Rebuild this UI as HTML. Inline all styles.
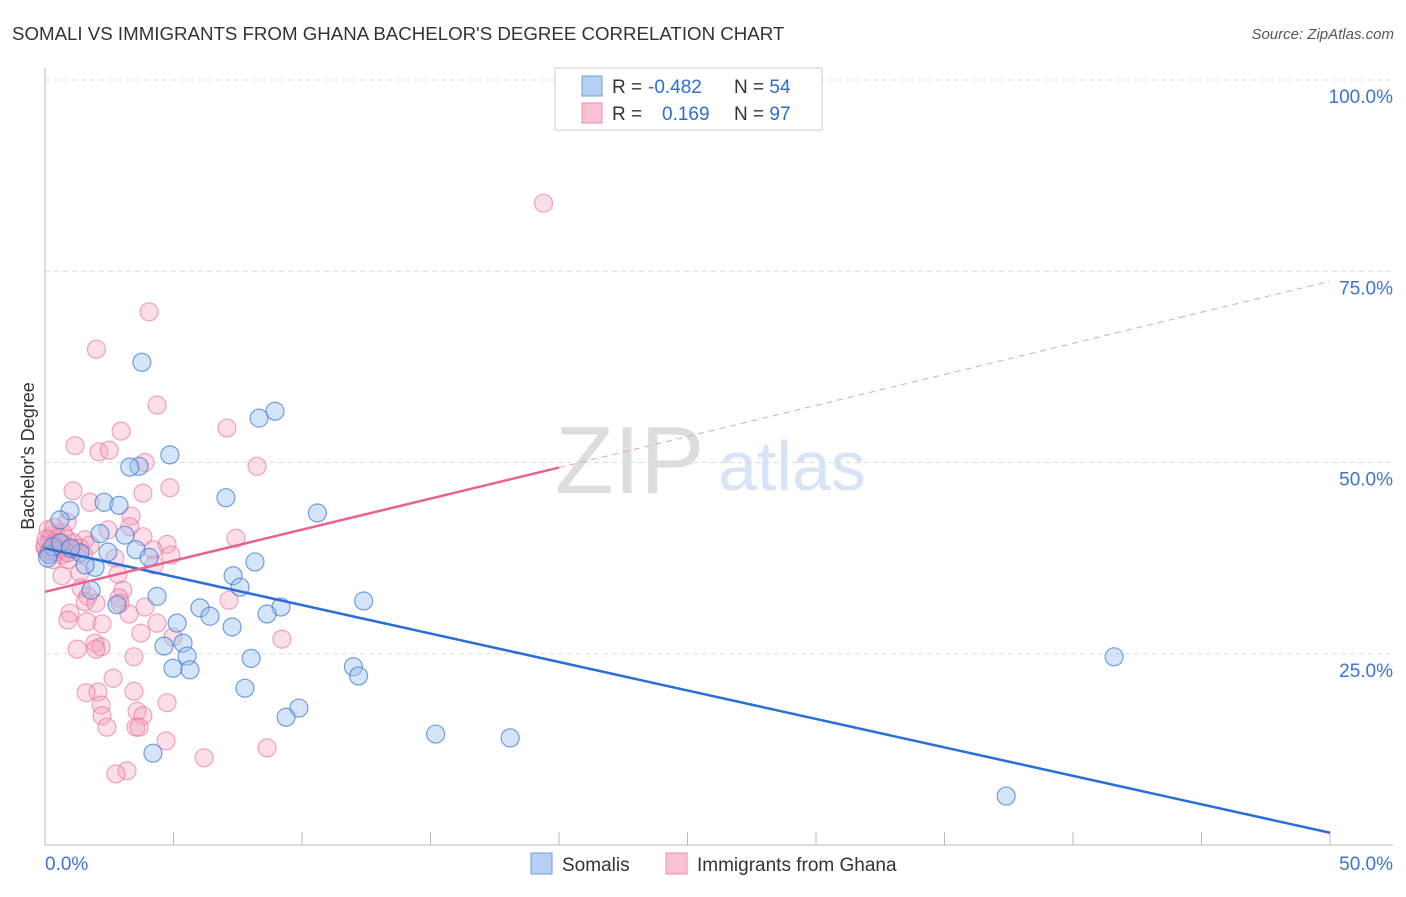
<!DOCTYPE html>
<html><head><meta charset="utf-8"><style>
body{margin:0;background:#fff;font-family:"Liberation Sans",sans-serif;}
svg text{font-family:"Liberation Sans",sans-serif;}
</style></head><body>
<svg id="c" width="1406" height="892" xmlns="http://www.w3.org/2000/svg">
<text x="12" y="40" font-size="18.7" fill="#333">SOMALI VS IMMIGRANTS FROM GHANA BACHELOR'S DEGREE CORRELATION CHART</text>
<text x="1394" y="39" font-size="15" fill="#555" text-anchor="end" font-style="italic">Source: ZipAtlas.com</text>
<text x="34" y="456" font-size="18" fill="#333" text-anchor="middle" transform="rotate(-90 34 456)">Bachelor's Degree</text>
<text x="555" y="493" font-size="96" fill="#ddd" font-family="Liberation Serif">ZIP</text>
<text x="718" y="490" font-size="70" fill="#d6e4f5">atlas</text>
<g id="grid"></g><g id="pts"></g><g id="lines"></g>
<g>
<rect x="555" y="68" width="267" height="62" fill="#fff" stroke="#ccc"/>
<rect x="582" y="76" width="20" height="20" fill="#b5d0f3" stroke="#6a9ee0"/>
<rect x="582" y="103" width="20" height="20" fill="#f8c2d2" stroke="#eb8eab"/>
<text x="612" y="93" font-size="19" fill="#333">R = </text><text x="648" y="93" font-size="19" fill="#2d6cd0">-0.482</text>
<text x="734" y="93" font-size="19" fill="#333">N = <tspan fill="#2d6cd0">54</tspan></text>
<text x="612" y="120" font-size="19" fill="#333">R = </text><text x="662" y="120" font-size="19" fill="#2d6cd0">0.169</text>
<text x="734" y="120" font-size="19" fill="#333">N = <tspan fill="#2d6cd0">97</tspan></text>
</g>
<g>
<rect x="531" y="853" width="21" height="21" fill="#b5d0f3" stroke="#6a9ee0"/>
<text x="562" y="871" font-size="19" fill="#333">Somalis</text>
<rect x="666" y="853" width="21" height="21" fill="#f8c2d2" stroke="#eb8eab"/>
<text x="697" y="871" font-size="19" fill="#333">Immigrants from Ghana</text>
</g>
</svg>
<script>
const yTicks=[100,75,50,25];
const yTickLabels=["100.0%","75.0%","50.0%","25.0%"];
const xTickLabels=["0.0%","50.0%"];
const somaliX=[3.77,8.95,8.33,4.86,3.66,3.3,7.04,2.3,2.88,10.6,0.97,0.58,2.14,3.11,3.54,2.45,1.36,4.05,8.17,1.95,1.56,7.32,7.59,1.79,4.36,12.4,2.8,9.18,6.03,8.64,6.42,5.14,7.28,5.37,4.63,5.53,8.02,41.6,4.98,5.64,12.0,12.2,7.78,9.88,9.38,15.2,18.1,4.2,37.4,0.15,0.3,0.1,0.6,1.0];
const somaliY=[63.1,56.7,55.8,51.0,49.5,49.4,45.4,44.8,44.4,43.4,43.7,42.5,40.7,40.5,38.6,38.3,38.2,37.6,37.0,36.3,36.6,35.2,33.7,33.3,32.5,31.9,31.4,31.1,31.0,30.2,29.9,29.0,28.5,26.4,26.0,24.7,24.4,24.6,23.1,22.9,23.3,22.1,20.5,17.9,16.7,14.5,14.0,12.0,6.4,38.0,39.0,37.5,39.5,38.8];
const ghanaX=[19.4,4.05,2.0,4.36,7.08,2.96,1.17,2.1,2.5,3.89,8.25,4.86,1.09,3.81,1.75,3.35,0.86,3.3,2.45,7.43,3.81,4.75,1.56,4.2,4.9,2.72,4.24,1.36,0.66,2.84,1.4,3.03,1.67,2.88,1.56,1.98,2.92,3.89,7.16,0.97,0.89,1.63,3.27,4.36,2.22,3.73,4.98,9.22,1.95,2.18,1.98,1.25,3.46,2.06,1.6,3.46,4.75,2.65,2.18,2.22,3.58,3.81,2.41,3.54,3.66,4.71,8.64,6.19,3.19,2.76,0.19,0.39,0.58,0.08,0.27,0.78,0.51,0.0,0.97,0.66,0.12,1.17,0.82,0.43,0.0,1.36,0.31,0.89,1.75,0.5,0.2,1.1,0.7,0.35,1.5,0.05,0.9];
const ghanaY=[83.9,69.7,64.8,57.5,54.5,54.1,52.2,51.4,51.6,50.0,49.5,46.7,46.3,46.0,44.8,43.0,42.2,41.6,41.2,40.1,40.3,39.3,39.9,38.6,37.9,37.5,36.6,35.6,35.2,35.4,33.6,33.3,32.5,32.3,31.8,31.6,31.6,31.1,32.0,30.3,29.4,29.2,30.2,29.0,28.9,27.7,27.2,26.9,26.4,25.9,25.6,25.6,24.6,20.0,19.9,20.1,18.6,21.8,18.3,16.9,17.5,16.9,15.4,15.4,15.4,13.6,12.7,11.4,9.7,9.3,39.9,39.2,38.8,38.3,40.5,39.2,40.1,38.8,38.6,37.9,41.2,38.8,40.1,38.3,39.2,38.8,37.3,37.3,39.2,39.6,38.5,39.5,40.8,41.5,38.0,40.0,38.2];
const somaliTrend=[38.8,1.6];
const ghanaTrend=[33.1,0.812];
const NS="http://www.w3.org/2000/svg";
const X=v=>45+v*25.7, Y=v=>845-v*7.65;
function mk(tag,attrs,parent){const e=document.createElementNS(NS,tag);for(const k in attrs)e.setAttribute(k,attrs[k]);document.getElementById(parent).appendChild(e);return e;}
yTicks.forEach((t,i)=>{
 const g=mk('line',{x1:45,x2:1393,y1:Y(t),y2:Y(t),stroke:'#ddd','stroke-dasharray':'5,4'},'grid');
 
 
 const l=mk('text',{x:1393,y:Y(t)+23,'font-size':19,fill:'#3b74d0','text-anchor':'end'},'grid');
 l.textContent=yTickLabels[i];
 
 
});
const ax=mk('line',{x1:45,x2:1393,y1:845,y2:845,stroke:'#bbb'},'grid');


const ay=mk('line',{x1:45,x2:45,y1:68,y2:845,stroke:'#bbb'},'grid');


for(let i=1;i<=10;i++){const t=mk('line',{x1:X(i*5),x2:X(i*5),y1:832,y2:845,stroke:'#bbb'},'grid');
 
 }
[[0,'start'],[50,'end']].forEach((p,i)=>{const t=mk('text',{x:i?1393:45,y:870,'font-size':19,fill:'#3b74d0','text-anchor':i?'end':'start'},'grid');t.textContent=xTickLabels[i];
 
 });
ghanaX.forEach((x,i)=>{const c=mk('circle',{cx:X(x),cy:Y(ghanaY[i]),r:9,fill:'rgba(244,160,186,0.35)',stroke:'rgba(232,110,150,0.6)','stroke-width':1.2},'pts');
 
 });
somaliX.forEach((x,i)=>{const c=mk('circle',{cx:X(x),cy:Y(somaliY[i]),r:9,fill:'rgba(150,190,240,0.4)',stroke:'rgba(60,120,210,0.7)','stroke-width':1.2},'pts');
 
 });
const bl=mk('line',{x1:X(0),y1:Y(somaliTrend[0]),x2:X(50),y2:Y(somaliTrend[1]),stroke:'#2b6fd6','stroke-width':2.5},'lines');


const gy=x=>ghanaTrend[0]+ghanaTrend[1]*x;
const pl=mk('line',{x1:X(0),y1:Y(gy(0)),x2:X(20),y2:Y(gy(20)),stroke:'#e8628e','stroke-width':2.5},'lines');


const pd=mk('line',{x1:X(20),y1:Y(gy(20)),x2:X(50),y2:Y(gy(50)),stroke:'#e8a0b8','stroke-width':1,'stroke-dasharray':'6,5'},'lines');


</script>
</body></html>
